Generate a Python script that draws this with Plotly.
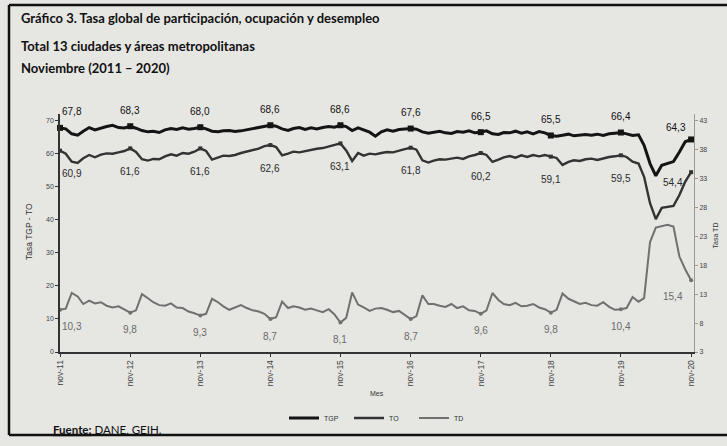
import plotly.graph_objects as go
import pandas as pd

# ---------------- data ----------------
months = pd.date_range("2011-11-01", "2020-11-01", freq="MS")  # nov-11 .. nov-20

tgp = [
    67.8, 67.5, 66.0, 65.6, 66.8, 67.9, 67.2, 67.8, 68.2, 68.6, 67.9, 67.8,   # nov11-oct12
    68.3, 67.7, 67.0, 66.6, 66.8, 66.4, 67.2, 67.6, 67.3, 67.8, 67.4, 67.6,   # nov12-oct13
    68.0, 67.5, 66.8, 66.6, 66.9, 67.0, 66.7, 66.9, 67.2, 67.6, 67.9, 68.3,   # nov13-oct14
    68.6, 68.3, 67.5, 67.0, 67.6, 67.9, 67.3, 67.8, 67.5, 67.9, 68.2, 68.0,   # nov14-oct15
    68.6, 68.2, 67.0, 67.8, 67.1, 66.5, 65.3, 66.6, 67.2, 66.8, 67.3, 67.4,   # nov15-oct16
    67.6, 67.4, 66.6, 66.2, 66.5, 66.8, 66.3, 66.1, 66.7, 66.5, 66.9, 66.3,   # nov16-oct17
    66.5, 66.9, 66.0, 65.8, 66.4, 66.3, 66.8, 66.2, 66.6, 66.0, 66.7, 66.3,   # nov17-oct18
    65.5, 65.3, 65.6, 65.9, 65.4, 65.7, 65.8, 65.6, 65.9, 65.5, 66.0, 66.2,   # nov18-oct19
    66.4, 66.0, 65.5, 65.7, 62.5, 57.0, 53.3, 56.5, 57.0, 57.6, 60.5, 63.6,   # nov19-oct20
    64.3,                                                                      # nov20
]

to = [
    60.9, 60.0, 57.6, 57.2, 58.6, 59.6, 58.9, 59.7, 60.1, 60.0, 60.4, 60.8,
    61.6, 60.5, 58.3, 57.9, 58.4, 58.3, 59.2, 59.8, 59.4, 60.2, 60.0, 60.6,
    61.6, 60.8, 58.2, 58.9, 59.4, 59.3, 59.6, 60.2, 60.6, 61.0, 61.5, 62.3,
    62.6, 62.0, 59.5, 60.0, 60.6, 60.4, 60.8, 61.1, 61.5, 61.7, 62.2, 62.6,
    63.1, 61.0, 57.8, 60.2, 59.4, 60.0, 59.8, 60.2, 60.5, 60.4, 61.0, 61.4,
    61.8, 61.2, 58.0, 57.3, 57.9, 58.3, 58.2, 58.5, 58.8, 58.4, 59.2, 59.6,
    60.2, 59.6, 57.5, 58.2, 58.9, 59.3, 58.8, 59.5, 59.0, 59.6, 59.2, 59.6,
    59.1, 58.7, 56.6, 57.5, 58.0, 57.8, 58.3, 58.5, 58.1, 58.6, 59.0, 59.2,
    59.5, 59.0, 57.6, 57.0, 53.0, 45.0, 40.2, 43.6, 43.8, 44.2, 47.5, 51.5,
    54.4,
]

td = [
    10.3, 10.5, 13.2, 12.6, 11.3, 11.9, 11.4, 11.6, 11.0, 10.7, 10.9, 10.3,
    9.8, 10.2, 13.0, 12.3, 11.6, 11.1, 11.0, 11.4, 10.7, 10.6, 10.0, 9.7,
    9.3, 9.6, 12.2, 11.6, 10.9, 10.3, 10.7, 11.1, 10.6, 10.2, 10.0, 9.6,
    8.7, 9.0, 11.7, 10.6, 10.9, 10.7, 10.3, 10.5, 10.2, 9.9, 10.4, 9.5,
    8.1, 8.9, 13.3, 11.2, 10.7, 10.1, 10.5, 10.6, 10.3, 9.9, 10.1, 9.4,
    8.7, 9.2, 12.8, 11.3, 11.3, 11.0, 10.8, 11.3, 10.6, 10.9, 10.2, 10.1,
    9.6, 10.2, 13.2, 12.0, 11.3, 11.1, 11.5, 10.9, 11.0, 11.3, 10.7, 10.4,
    9.8, 10.3, 13.1, 12.2, 11.8, 11.3, 11.5, 11.1, 11.0, 11.6, 10.8, 10.3,
    10.4, 10.6, 12.5, 11.7, 12.3, 22.0, 24.5, 24.8, 25.0, 24.7, 19.5, 17.3,
    15.4,
]

tick_labels = ["nov-11", "nov-12", "nov-13", "nov-14", "nov-15",
               "nov-16", "nov-17", "nov-18", "nov-19", "nov-20"]
left_ticks = [0, 10, 20, 30, 40, 50, 60, 70]
right_ticks = [3, 8, 13, 18, 23, 28, 33, 38, 43]

title_lines = ["Gráfico 3. Tasa global de participación, ocupación y desempleo",
               "Total 13 ciudades y áreas metropolitanas",
               "Noviembre (2011 – 2020)"]

# ---------------- layout helpers ----------------
W, H = 727, 446
ML, MR, MT, MB = 60, 33, 114, 94
PW, PH = W - ML - MR, H - MT - MB
def px_x(px): return (px - ML) / PW
def px_y(py): return (H - MB - py) / PH

YMAX = 72
Y2MIN = 3
Y2MAX = 3 + YMAX * 40 / 70

BG = "#e6e6e3"
C_TGP = "#141414"
C_TO = "#333333"
C_TD = "#707070"
FONT = "Liberation Sans"

nov_idx = list(range(0, len(months), 12))
nov_dates = [months[i] for i in nov_idx]
fmt = lambda v: f"{v:.1f}".replace(".", ",")

fig = go.Figure()
fig.add_trace(go.Scatter(x=months, y=tgp, mode="lines", name="TGP",
                         line=dict(color=C_TGP, width=3), cliponaxis=False))
fig.add_trace(go.Scatter(x=months, y=to, mode="lines", name="TO",
                         line=dict(color=C_TO, width=2.4), cliponaxis=False))
fig.add_trace(go.Scatter(x=months, y=td, mode="lines", name="TD", yaxis="y2",
                         line=dict(color=C_TD, width=2), cliponaxis=False))
# markers at the November points
fig.add_trace(go.Scatter(x=nov_dates, y=[tgp[i] for i in nov_idx], mode="markers",
                         marker=dict(symbol="square", size=6, color=C_TGP),
                         showlegend=False, cliponaxis=False, hoverinfo="skip"))
fig.add_trace(go.Scatter(x=nov_dates, y=[to[i] for i in nov_idx], mode="markers",
                         marker=dict(symbol="square", size=4, color=C_TO),
                         showlegend=False, cliponaxis=False, hoverinfo="skip"))
fig.add_trace(go.Scatter(x=nov_dates, y=[td[i] for i in nov_idx], mode="markers", yaxis="y2",
                         marker=dict(symbol="circle", size=4, color=C_TD),
                         showlegend=False, cliponaxis=False, hoverinfo="skip"))

ann = []
last = len(nov_idx) - 1
for k, i in enumerate(nov_idx):
    if k == 0:
        xa, xs = "left", 0
    elif k == last:
        xa, xs = "right", -3
    else:
        xa, xs = "center", 0
    ann.append(dict(x=months[i], y=tgp[i], xref="x", yref="y", text=fmt(tgp[i]),
                    showarrow=False, xanchor=xa, xshift=xs, yshift=16 if k != last else 12,
                    font=dict(family=FONT, size=10, color="#111111")))
    ann.append(dict(x=months[i], y=to[i], xref="x", yref="y", text=fmt(to[i]),
                    showarrow=False, xanchor=xa, xshift=xs if k != last else -6,
                    yshift=-23 if k != last else -10,
                    font=dict(family=FONT, size=10, color="#2a2a2a")))
    ann.append(dict(x=months[i], y=td[i], xref="x", yref="y2", text=fmt(td[i]),
                    showarrow=False, xanchor=xa, xshift=xs if k != last else -6,
                    yshift=-17 if k != last else -16,
                    font=dict(family=FONT, size=10, color="#6a6a6a")))

# titles
title_y = [18, 46, 68]
for t, py in zip(title_lines, title_y):
    ann.append(dict(x=px_x(19), y=px_y(py), xref="paper", yref="paper", text=f"<b>{t}</b>",
                    showarrow=False, xanchor="left", yanchor="middle",
                    font=dict(family="Lato", size=13, color="#111111")))
ann.append(dict(x=px_x(22), y=px_y(232), xref="paper", yref="paper", text="Tasa TGP - TO",
                showarrow=False, textangle=-90, font=dict(family=FONT, size=8.5, color="#333333")))
ann.append(dict(x=px_x(720), y=px_y(236), xref="paper", yref="paper", text="Tasa TD",
                showarrow=False, textangle=-90, font=dict(family=FONT, size=7, color="#333333")))
ann.append(dict(x=px_x(377), y=px_y(399), xref="paper", yref="paper", text="Mes",
                showarrow=False, font=dict(family=FONT, size=7, color="#333333")))
ann.append(dict(x=px_x(51), y=px_y(429), xref="paper", yref="paper",
                text="<b><u>Fuente:</u></b> DANE, GEIH.",
                showarrow=False, xanchor="left", yanchor="middle",
                font=dict(family="Lato", size=11.5, color="#111111")))

shapes = [
    dict(type="line", xref="paper", yref="paper", x0=px_x(9), x1=px_x(9),
         y0=px_y(5), y1=px_y(435), line=dict(color="#111111", width=2.5)),
    dict(type="line", xref="paper", yref="paper", x0=px_x(9), x1=px_x(740),
         y0=px_y(5), y1=px_y(5), line=dict(color="#111111", width=2.5)),
    dict(type="line", xref="paper", yref="paper", x0=px_x(9), x1=px_x(740),
         y0=px_y(435), y1=px_y(435), line=dict(color="#111111", width=2.5)),
]

x_end = months[-1] + pd.Timedelta(days=15)

fig.update_layout(
    width=W, height=H,
    margin=dict(l=ML, r=MR, t=MT, b=MB, pad=0),
    paper_bgcolor=BG, plot_bgcolor=BG,
    font=dict(family=FONT, size=8, color="#333333"),
    showlegend=True,
    legend=dict(orientation="h", x=px_x(284), y=px_y(418), xanchor="left", yanchor="middle",
                bgcolor="rgba(0,0,0,0)", font=dict(family=FONT, size=7, color="#333333"),
                itemwidth=30, entrywidth=20, entrywidthmode="pixels"),
    xaxis=dict(range=[months[0], x_end], tickvals=nov_dates, ticktext=tick_labels,
               tickangle=-90, showgrid=False, zeroline=False, showline=True,
               linecolor="#333333", linewidth=1.5, ticks="outside", ticklen=3,
               tickcolor="#333333", tickfont=dict(size=8.5, color="#444444"),
               automargin=False),
    yaxis=dict(range=[0, YMAX], tickvals=left_ticks, showgrid=False, zeroline=False,
               showline=True, linecolor="#333333", linewidth=1.5, ticks="outside",
               ticklen=3, tickcolor="#333333", tickfont=dict(size=7, color="#444444"),
               automargin=False),
    yaxis2=dict(range=[Y2MIN, Y2MAX], tickvals=right_ticks, overlaying="y", side="right",
                showgrid=False, zeroline=False, showline=True, linecolor="#999999",
                linewidth=1, ticks="outside", ticklen=3, tickcolor="#999999",
                tickfont=dict(size=7, color="#444444"), automargin=False),
    annotations=ann,
    shapes=shapes,
)

fig.write_html("out.html", config={"displayModeBar": False},
               post_script="document.body.style.margin='0';document.body.style.padding='0';")
